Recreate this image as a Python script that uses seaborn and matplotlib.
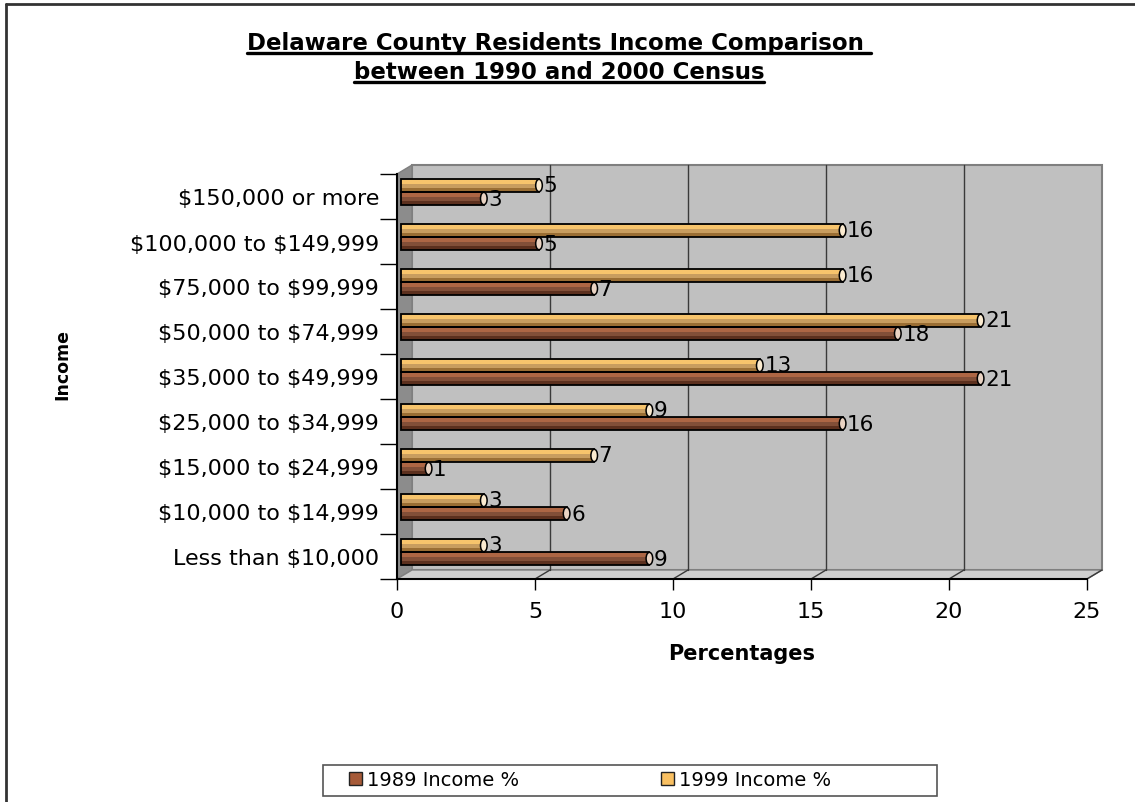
import matplotlib
matplotlib.use("Agg")
import matplotlib.pyplot as plt
import numpy as np
import pandas as pd
import seaborn as sns
from matplotlib.patches import Rectangle, Ellipse, Polygon, Patch
from matplotlib.transforms import ScaledTranslation
from matplotlib.lines import Line2D

# Income brackets, listed top to bottom
categories = [
    "$150,000 or more",
    "$100,000 to $149,999",
    "$75,000 to $99,999",
    "$50,000 to $74,999",
    "$35,000 to $49,999",
    "$25,000 to $34,999",
    "$15,000 to $24,999",
    "$10,000 to $14,999",
    "Less than $10,000",
]
income_1989 = [3, 5, 7, 18, 21, 16, 1, 6, 9]
income_1999 = [5, 16, 16, 21, 13, 9, 7, 3, 3]
series_names = ["1989 Income %", "1999 Income %"]
x_ticks = [0, 5, 10, 15, 20, 25]

df = pd.DataFrame({
    "Income": categories * 2,
    "Percent": income_1989 + income_1999,
    "Series": [series_names[0]] * len(categories) + [series_names[1]] * len(categories),
})

sns.set_style("white")
plt.rcParams["font.family"] = ["DejaVu Sans"]
plt.rcParams["text.color"] = "black"
plt.rcParams["axes.labelcolor"] = "black"
plt.rcParams["xtick.color"] = "black"
plt.rcParams["ytick.color"] = "black"

W, H, DPI = 1135, 803, 100
fig = plt.figure(figsize=(W / DPI, H / DPI), dpi=DPI)
fig.patch.set_facecolor("white")

# front plane of the plot area in pixels
L, R, T, B = 397, 1087, 175, 580
ax = fig.add_axes([L / W, 1 - B / H, (R - L) / W, (B - T) / H])
ax.set_facecolor("none")

brown = {"main": "#8E4A2C", "light": "#AD6644", "dark": "#5C301E", "cap": "#E9D3C3"}
tan = {"main": "#D9A04E", "light": "#F7C46C", "dark": "#9A6E34", "cap": "#FBEBD0"}
styles = {series_names[0]: brown, series_names[1]: tan}

sns.barplot(
    data=df, y="Income", x="Percent", hue="Series",
    order=categories, hue_order=[series_names[1], series_names[0]],
    palette={k: v["main"] for k, v in styles.items()},
    orient="h", width=0.58, edgecolor="none", linewidth=0,
    legend=False, ax=ax, errorbar=None,
)

ax.set_xlim(0, 25)
ax.set_ylim(8.5, -0.5)

# depth of the 3-D box
depth = ScaledTranslation(15 / DPI, 9 / DPI, fig.dpi_scale_trans)
bar_shift = ScaledTranslation(4 / DPI, 4.5 / DPI, fig.dpi_scale_trans)
back_axes = ax.transAxes + depth

wall_grey = "#C0C0C0"
edge_grey = "#7F7F7F"
# back wall
ax.add_patch(Rectangle((0, 0), 1, 1, transform=back_axes, facecolor=wall_grey,
                       edgecolor=edge_grey, linewidth=1.5, zorder=0, clip_on=False))
fig.canvas.draw()
inv = ax.transAxes.inverted()
# side wall
p_front = ax.transAxes.transform([(0, 0), (0, 1)])
p_back = back_axes.transform([(0, 1), (0, 0)])
side_pts = inv.transform(np.vstack([p_front, p_back]))
ax.add_patch(Polygon(side_pts, closed=True, transform=ax.transAxes, facecolor="#8C8C8C",
                     edgecolor=edge_grey, linewidth=1, zorder=0.1, clip_on=False))
# floor
f_front = ax.transAxes.transform([(0, 0), (1, 0)])
f_back = back_axes.transform([(1, 0), (0, 0)])
floor_pts = inv.transform(np.vstack([f_front, f_back]))
ax.add_patch(Polygon(floor_pts, closed=True, transform=ax.transAxes, facecolor="#CFCFCF",
                     edgecolor=edge_grey, linewidth=1, zorder=0.1, clip_on=False))

# gridlines on the back wall and their traces across the floor
xt = ax.get_xaxis_transform()
for v in x_ticks[1:-1]:
    ax.add_line(Line2D([v, v], [0, 1], transform=xt + depth, color="#3A3A3A",
                       linewidth=1, zorder=0.2, clip_on=False))
for v in x_ticks[1:]:
    a = xt.transform([(v, 0)])[0]
    b = (xt + depth).transform([(v, 0)])[0]
    pts = inv.transform([a, b])
    ax.add_line(Line2D(pts[:, 0], pts[:, 1], transform=ax.transAxes, color="#3A3A3A",
                       linewidth=1, zorder=0.2, clip_on=False))

# shaded cylinder-like bars with end caps and value labels
bar_tr = ax.transData + bar_shift
n = len(categories)
for k, patch in enumerate(list(ax.containers[0]) + list(ax.containers[1])):
    name = series_names[1] if k < n else series_names[0]
    st = styles[name]
    x0, y0 = patch.get_x(), patch.get_y()
    w, h = patch.get_width(), patch.get_height()
    patch.set_transform(bar_tr)
    patch.set_zorder(2)
    ax.add_patch(Rectangle((x0, y0 + 0.06 * h), w, 0.3 * h, transform=bar_tr,
                           facecolor=st["light"], edgecolor="none", zorder=2.1))
    ax.add_patch(Rectangle((x0, y0 + 0.68 * h), w, 0.32 * h, transform=bar_tr,
                           facecolor=st["dark"], edgecolor="none", zorder=2.1))
    ax.add_patch(Rectangle((x0, y0), w, h, transform=bar_tr, facecolor="none",
                           edgecolor="black", linewidth=1.3, zorder=2.2))
    ax.add_patch(Ellipse((x0 + w, y0 + h / 2), 0.24, h * 0.95, transform=bar_tr,
                         facecolor=st["cap"], edgecolor="black", linewidth=1.1, zorder=2.3))
    ax.text(x0 + w + 0.16, y0 + h / 2, f"{w:.0f}", transform=bar_tr, ha="left",
            va="center", fontsize=15.5, color="black", zorder=3)

# axes
for s in ["top", "right"]:
    ax.spines[s].set_visible(False)
for s in ["left", "bottom"]:
    ax.spines[s].set_color("black")
    ax.spines[s].set_linewidth(1.5)
    ax.spines[s].set_zorder(1)

ax.set_xticks(x_ticks)
ax.set_xticklabels([str(t) for t in x_ticks], fontsize=16)
ax.tick_params(axis="x", direction="out", length=8, width=1, color="black",
               labelcolor="black", pad=8, bottom=True)
ax.set_yticks(range(n))
ax.set_yticklabels([c.replace("$", r"\$") for c in categories], fontsize=16)
ax.set_yticks(np.arange(-0.5, n, 1.0), minor=True)
ax.tick_params(axis="y", which="major", length=0, pad=13, left=True, labelcolor="black")
ax.tick_params(axis="y", which="minor", length=12, width=1, color="black", left=True)

ax.set_xlabel("Percentages", fontsize=15, fontweight="bold", labelpad=16, color="black")
ax.set_ylabel("")
fig.text(62 / W, 1 - 365 / H, "Income", rotation=90, fontsize=12.5, fontweight="bold",
         ha="center", va="center", color="black")

# title with underline
title_lines = ["Delaware County Residents Income Comparison ", "between 1990 and 2000 Census"]
baselines = [50, 79]
title_texts = []
for line, yb in zip(title_lines, baselines):
    t = fig.text(559 / W, 1 - yb / H, line, ha="center", va="baseline", fontsize=16.5,
                 fontweight="bold", color="black")
    title_texts.append((t, yb))
fig.canvas.draw()
rend = fig.canvas.get_renderer()
for t, yb in title_texts:
    bb = t.get_window_extent(rend)
    yu = 1 - (yb + 4) / H
    fig.add_artist(Line2D([bb.x0 / W, bb.x1 / W], [yu, yu], transform=fig.transFigure,
                          color="black", linewidth=2.4))

# legend with a plain rectangular frame
handles = [Patch(facecolor="#A65A38", edgecolor="#222222", linewidth=1),
           Patch(facecolor="#F9C062", edgecolor="#222222", linewidth=1)]
leg = fig.legend(handles, series_names, loc="center left",
                 bbox_to_anchor=(349 / W, 1 - 781 / H), ncol=2, fontsize=14,
                 frameon=False, handlelength=0.65, handleheight=0.65,
                 handletextpad=0.3, columnspacing=7.27, borderpad=0, borderaxespad=0)
for txt in leg.get_texts():
    txt.set_color("black")
fig.add_artist(Rectangle((323 / W, 1 - 797 / H), (937 - 323) / W, 31 / H,
                         transform=fig.transFigure, facecolor="none",
                         edgecolor="#555555", linewidth=1.2))

# outer frame (top and left edges)
fig.add_artist(Line2D([6 / W, 6 / W], [0, 1 - 5 / H], transform=fig.transFigure,
                      color="#333333", linewidth=2))
fig.add_artist(Line2D([6 / W, 1], [1 - 5 / H, 1 - 5 / H], transform=fig.transFigure,
                      color="#333333", linewidth=2))

fig.savefig("out.png", dpi=DPI)
